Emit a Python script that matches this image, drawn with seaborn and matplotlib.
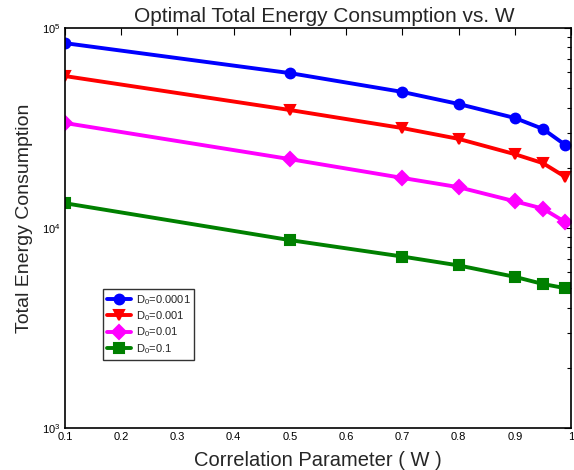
import matplotlib
matplotlib.use("Agg")
import matplotlib.pyplot as plt
import seaborn as sns
import pandas as pd
import numpy as np
from matplotlib.ticker import LogLocator, FixedLocator, NullFormatter

sns.set_style("white")
plt.rcParams['font.family'] = ['Liberation Sans', 'DejaVu Sans']
plt.rcParams['mathtext.fontset'] = 'custom'
plt.rcParams['mathtext.rm'] = 'Liberation Sans'
plt.rcParams['mathtext.it'] = 'Liberation Sans'

w = [0.1, 0.5, 0.7, 0.8, 0.9, 0.95, 0.99]
series_names = ["D$_0$=0.0001", "D$_0$=0.001", "D$_0$=0.01", "D$_0$=0.1"]
e_0001 = [84000, 59500, 47900, 41700, 35500, 31300, 26000]
e_001 = [57500, 38900, 31600, 27900, 23400, 21100, 18000]
e_01 = [33500, 22100, 17800, 16000, 13600, 12500, 10700]
e_1 = [13300, 8700, 7200, 6500, 5700, 5250, 5000]
colors = ["#0000ff", "#ff0000", "#ff00ff", "#008000"]
markers = ["o", "v", "D", "s"]
xticks = [0.1, 0.2, 0.3, 0.4, 0.5, 0.6, 0.7, 0.8, 0.9, 1.0]
xticklabels = ["0.1", "0.2", "0.3", "0.4", "0.5", "0.6", "0.7", "0.8", "0.9", "1"]

rows = []
for name, vals in zip(series_names, [e_0001, e_001, e_01, e_1]):
    for x, y in zip(w, vals):
        rows.append({"W": x, "E": y, "series": name})
df = pd.DataFrame(rows)

fig = plt.figure(figsize=(5.74, 4.70), dpi=100)
ax = fig.add_axes([65/574, 1-428/470, 506/574, 400/470])

sns.lineplot(data=df, x="W", y="E", hue="series", style="series",
             hue_order=series_names, style_order=series_names,
             palette=dict(zip(series_names, colors)),
             markers=dict(zip(series_names, markers)), dashes=False,
             linewidth=2.8, markersize=7, markeredgewidth=1.5, ax=ax,
             legend=False)
for line, c in zip(ax.lines, colors):
    line.set_markeredgecolor(c)
    line.set_markerfacecolor(c)

ax.set_yscale("log")
ax.set_xlim(0.1, 1.0)
ax.set_ylim(1e3, 1e5)
ax.set_xticks(xticks)
ax.set_xticklabels(xticklabels)
ax.yaxis.set_major_locator(FixedLocator([1e3, 1e4, 1e5]))
ax.set_yticklabels(["10$^3$", "10$^4$", "10$^5$"])
ax.yaxis.set_minor_locator(LogLocator(base=10, subs=np.arange(2, 10)))
ax.yaxis.set_minor_formatter(NullFormatter())
ax.tick_params(axis="both", which="both", direction="in", top=True, right=True,
               labelsize=8, colors="black", width=0.8)
ax.tick_params(which="major", length=5)
ax.tick_params(which="minor", length=3)
ax.tick_params(axis="x", pad=3)
for s in ax.spines.values():
    s.set_color("black")
    s.set_linewidth(1.2)

ax.set_xlabel("Correlation Parameter ( W )", fontsize=14.5, labelpad=6)
ax.set_ylabel("Total Energy Consumption", fontsize=14)
ax.yaxis.set_label_coords(-0.064, 0.525)
ax.set_title("Optimal Total Energy Consumption vs. W", fontsize=15, pad=4, x=0.512)

leg = ax.legend(handles=ax.lines[:4], labels=series_names,
                loc="upper left", bbox_to_anchor=(0.075, 0.347), fontsize=8,
                frameon=True, fancybox=False, edgecolor="black",
                handlelength=2.2, handletextpad=0.4, borderpad=0.35,
                labelspacing=0.22, borderaxespad=0)
leg.get_frame().set_linewidth(1.0)

fig.savefig("out.png", dpi=100)
